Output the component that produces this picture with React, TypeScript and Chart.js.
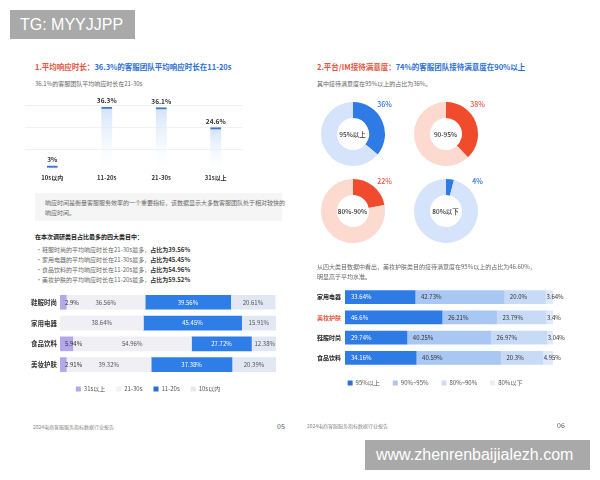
import React, { useEffect, useRef } from 'react';
import { Chart, registerables } from 'chart.js';

Chart.register(...registerables);

const FONT = '"Noto Sans CJK SC", "Noto Sans", sans-serif';

// ---- Page 05: average response time ----
const respCategories = ['10s以内', '11-20s', '21-30s', '31s以上'];
const respShares = [3, 36.3, 36.1, 24.6];

const leftCategories = ['鞋服时尚', '家用电器', '食品饮料', '美妆护肤'];
const leftSeriesNames = ['31s以上', '21-30s', '11-20s', '10s以内'];
const over31s = [2.9, null, 5.94, 2.91];
const from21to30 = [36.56, 38.64, 54.96, 39.32];
const from11to20 = [39.56, 45.45, 27.72, 37.38];
const within10s = [20.61, 15.91, 12.38, 20.39];

const bulletCats = ['鞋服时尚', '家用电器', '食品饮料', '美妆护肤'];
const bulletRanges = ['21-30s', '21-30s', '11-20s', '11-20s'];
const bulletShares = ['39.56%', '45.45%', '54.96%', '59.52%'];

// ---- Page 06: satisfaction ----
const donutNames = ['95%以上', '90-95%', '80%-90%', '80%以下'];
const donutShares = [36, 38, 22, 4];

const rightCategories = ['家用电器', '美妆护肤', '鞋服时尚', '食品饮料'];
const rightSeriesNames = ['95%以上', '90%~95%', '80%~90%', '80%以下'];
const above95 = [33.64, 46.6, 29.74, 34.16];
const from90to95 = [42.73, 26.21, 40.25, 40.59];
const from80to90 = [20.0, 23.79, 26.97, 20.3];
const below80 = [3.64, 3.4, 3.04, 4.95];
const highlightCategory = '美妆护肤';

const RED = '#e4553f';
const BLUE_T = '#2d6fd4';

function fmt(v: number) {
  return Number.isInteger(v) && v !== 0 && v < 100 && v > 10 ? v.toFixed(1) : String(v);
}

function makeSegPlugin(cfg: { colors: string[]; align: 'center' | 'left'; offset: number; font: string }) {
  return {
    id: 'segLabels',
    afterDatasetsDraw(chart: any) {
      const ctx = chart.ctx;
      ctx.save();
      ctx.font = cfg.font;
      ctx.textBaseline = 'middle';
      chart.data.datasets.forEach((ds: any, di: number) => {
        const meta = chart.getDatasetMeta(di);
        meta.data.forEach((el: any, i: number) => {
          const v = ds.data[i];
          if (v == null) return;
          const text = fmt(v) + '%';
          const { x, base, y } = el.getProps(['x', 'base', 'y'], true);
          const left = Math.min(x, base);
          const w = Math.abs(x - base);
          const tw = ctx.measureText(text).width;
          ctx.fillStyle = cfg.colors[di];
          if (cfg.align === 'center' && tw + 4 <= w) {
            ctx.textAlign = 'center';
            ctx.fillText(text, left + w / 2, y);
          } else if (cfg.align === 'left' && tw + cfg.offset + 2 <= w) {
            ctx.textAlign = 'left';
            ctx.fillText(text, left + cfg.offset, y);
          } else {
            ctx.textAlign = 'left';
            ctx.fillText(text, cfg.align === 'center' ? left + 5 : left + 1, y);
          }
        });
      });
      ctx.restore();
    },
  };
}

const barValuePlugin = {
  id: 'barValues',
  afterDatasetsDraw(chart: any) {
    const ctx = chart.ctx;
    ctx.save();
    ctx.font = `bold 6.5px ${FONT}`;
    ctx.fillStyle = '#333';
    ctx.textAlign = 'center';
    ctx.textBaseline = 'bottom';
    const ds = chart.data.datasets[0];
    chart.getDatasetMeta(0).data.forEach((el: any, i: number) => {
      ctx.fillText(`${ds.data[i]}%`, el.x, el.y - 3);
    });
    ctx.restore();
  },
};

function ChartBox({ make, left, top, width, height }: any) {
  const ref = useRef<HTMLCanvasElement>(null);
  useEffect(() => {
    const chart = new Chart(ref.current as HTMLCanvasElement, make());
    return () => chart.destroy();
  }, []);
  return (
    <canvas
      ref={ref}
      width={width}
      height={height}
      style={{ position: 'absolute', left, top, width, height }}
    />
  );
}

function T({ x, y, size, color = '#333', weight = 400, children, center = false, family = FONT }: any) {
  const lh = Math.ceil(size * 1.4);
  return (
    <div
      style={{
        position: 'absolute',
        left: x,
        top: y - lh / 2,
        fontSize: size,
        lineHeight: `${lh}px`,
        color,
        fontWeight: weight,
        whiteSpace: 'nowrap',
        fontFamily: family,
        transform: center ? 'translateX(-50%)' : undefined,
      }}
    >
      {children}
    </div>
  );
}

const respChart = () => ({
  type: 'bar',
  data: {
    labels: respCategories,
    datasets: [
      {
        data: respShares,
        barThickness: 11,
        backgroundColor: (c: any) => {
          const chart = c.chart;
          if (!chart.chartArea || c.raw == null) return '#d3e3f9';
          const y = chart.scales.y;
          const g = chart.ctx.createLinearGradient(0, y.getPixelForValue(c.raw), 0, y.getPixelForValue(0));
          g.addColorStop(0, '#d2e2f9');
          g.addColorStop(1, 'rgba(255,255,255,0.2)');
          return g;
        },
        borderColor: '#3f78c8',
        borderWidth: { top: 2, left: 0, right: 0, bottom: 0 },
        borderSkipped: false,
      },
    ],
  },
  options: {
    animation: false,
    responsive: false,
    layout: { padding: { left: 5, right: 17, top: 20, bottom: 0 } },
    plugins: { legend: { display: false }, tooltip: { enabled: false } },
    scales: {
      x: {
        grid: { display: false, drawTicks: false },
        border: { display: false },
        ticks: { font: { family: FONT, size: 6, weight: 'bold' }, color: '#333', padding: 3 },
        afterFit: (s: any) => {
          s.height = 19;
        },
      },
      y: {
        min: 0,
        max: 37.5,
        ticks: { display: false, stepSize: 12.5 },
        grid: {
          drawTicks: false,
          color: (c: any) => (c.tick && c.tick.value === 0 ? 'rgba(0,0,0,0)' : '#eef1f5'),
        },
        border: { display: false },
        afterFit: (s: any) => {
          s.width = 0;
        },
      },
    },
  },
  plugins: [barValuePlugin],
});

const leftColors = ['#b5a8ea', '#efeff4', '#2f7de6', '#e2e8f3'];
const leftLegendColors = ['#b5a8ea', '#f1f1f5', '#2a6ccf', '#e6e8ee'];
const leftStackChart = () => ({
  type: 'bar',
  data: {
    labels: leftCategories,
    datasets: [over31s, from21to30, from11to20, within10s].map((d, i) => ({
      label: leftSeriesNames[i],
      data: d,
      backgroundColor: leftColors[i],
      borderWidth: 0,
      barThickness: 14,
    })),
  },
  options: {
    animation: false,
    responsive: false,
    indexAxis: 'y',
    layout: { padding: { left: 0, right: 9, top: 5, bottom: 0 } },
    plugins: {
      tooltip: { enabled: false },
      legend: {
        position: 'bottom',
        labels: {
          boxWidth: 5,
          boxHeight: 5,
          padding: 11,
          color: '#555',
          font: { family: FONT, size: 6 },
          generateLabels: (chart: any) =>
            chart.data.datasets.map((ds: any, i: number) => ({
              text: ds.label,
              fillStyle: leftLegendColors[i],
              strokeStyle: leftLegendColors[i],
              lineWidth: 0,
              hidden: false,
              datasetIndex: i,
              fontColor: '#555',
            })),
        },
      },
    },
    scales: {
      x: { display: false, stacked: true, min: 0, max: 100 },
      y: {
        stacked: true,
        grid: { display: false, drawTicks: false },
        border: { display: false },
        ticks: { font: { family: FONT, size: 6.5, weight: 'bold' }, color: '#333', padding: 3 },
        afterFit: (s: any) => {
          s.width = 40;
        },
      },
    },
  },
  plugins: [
    makeSegPlugin({
      colors: ['#333', '#555', '#ffffff', '#555'],
      align: 'center',
      offset: 5,
      font: `6px ${FONT}`,
    }),
  ],
});

const rightColors = ['#2f7be6', '#a9c7f3', '#c7dbf7', '#dfe9fa'];
const rightLegendColors = ['#2f6fd6', '#b7c3ec', '#d3daf1', '#e9edf6'];
const rightStackChart = () => ({
  type: 'bar',
  data: {
    labels: rightCategories,
    datasets: [above95, from90to95, from80to90, below80].map((d, i) => ({
      label: rightSeriesNames[i],
      data: d,
      backgroundColor: rightColors[i],
      borderWidth: 0,
      barThickness: 13,
    })),
  },
  options: {
    animation: false,
    responsive: false,
    indexAxis: 'y',
    layout: { padding: { left: 7, right: 32, top: 7, bottom: 0 } },
    plugins: {
      tooltip: { enabled: false },
      legend: {
        position: 'bottom',
        labels: {
          boxWidth: 5,
          boxHeight: 5,
          padding: 7,
          color: '#555',
          font: { family: FONT, size: 6 },
          generateLabels: (chart: any) =>
            chart.data.datasets.map((ds: any, i: number, arr: any[]) => ({
              text: i < arr.length - 1 ? ds.label + '\u3000' : ds.label,
              fillStyle: rightLegendColors[i],
              strokeStyle: rightLegendColors[i],
              lineWidth: 0,
              hidden: false,
              datasetIndex: i,
              fontColor: '#555',
            })),
        },
      },
    },
    scales: {
      x: {
        stacked: true,
        min: 0,
        max: 100,
        grid: { display: false, drawTicks: false },
        border: { display: false },
        ticks: { display: false },
        afterFit: (s: any) => {
          s.height = 5;
        },
      },
      y: {
        stacked: true,
        grid: { display: false, drawTicks: false },
        border: { display: false },
        ticks: {
          font: { family: FONT, size: 6, weight: 'bold' },
          color: (c: any) => (c.tick && c.tick.label === highlightCategory ? RED : '#222'),
          crossAlign: 'far',
          padding: 3,
        },
        afterFit: (s: any) => {
          s.width = 28;
        },
      },
    },
  },
  plugins: [
    makeSegPlugin({
      colors: ['#ffffff', '#333', '#333', '#333'],
      align: 'left',
      offset: 6,
      font: `6px ${FONT}`,
    }),
  ],
});

const donutMain = ['#2f7be6', '#ef4b2c', '#ef4b2c', '#2f7be6'];
const donutRest = ['#d5e4fa', '#fcdad0', '#fcdad0', '#d5e4fa'];
const donutText = ['#2f70d8', '#e5533c', '#e5533c', '#2f70d8'];
const donutCenters = [
  [352.5, 134],
  [445.5, 134],
  [352.5, 210.5],
  [445.5, 210.5],
];

const donutChart = (i: number) => () => ({
  type: 'doughnut',
  data: {
    labels: [donutNames[i], '其他'],
    datasets: [
      {
        data: [donutShares[i], 100 - donutShares[i]],
        backgroundColor: [donutMain[i], donutRest[i]],
        borderWidth: 0,
      },
    ],
  },
  options: {
    animation: false,
    responsive: false,
    cutout: '50%',
    layout: { padding: 3 },
    plugins: { legend: { display: false }, tooltip: { enabled: false } },
  },
});

export default function App() {
  return (
    <div
      style={{
        position: 'fixed',
        left: 0,
        top: 0,
        width: 600,
        height: 480,
        background: '#ffffff',
        overflow: 'hidden',
        fontFamily: FONT,
      }}
    >
      {/* ---------- Left page ---------- */}
      <T x={35} y={66} size={7.5} weight={700} color={RED}>
        1.平均响应时长：<span style={{ color: BLUE_T }}>36.3%的客服团队平均响应时长在11-20s</span>
      </T>
      <T x={35} y={83} size={6} color="#666">
        36.1%的客服团队平均响应时长在21-30s
      </T>
      <ChartBox make={respChart} left={20} top={85} width={240} height={105} />

      <div style={{ position: 'absolute', left: 35, top: 193, width: 247, height: 28, background: '#f5f5f5' }} />
      <T x={45} y={202} size={6} color="#666">
        响应时间是衡量客服服务效率的一个重要指标，该数据显示大多数客服团队处于相对较快的
      </T>
      <T x={45} y={212} size={6} color="#666">
        响应时间。
      </T>

      <T x={35} y={236} size={6} weight={700} color="#222">
        在本次调研类目占比最多的四大类目中：
      </T>
      {bulletCats.map((c, i) => (
        <React.Fragment key={c}>
          <T x={36} y={249 + i * 10} size={6} color="#777">
            •
          </T>
          <T x={42} y={249 + i * 10} size={6} color="#666">
            {c}的平均响应时长在{bulletRanges[i]}最多，
            <span style={{ fontWeight: 700, color: '#333' }}>占比为{bulletShares[i]}</span>
          </T>
        </React.Fragment>
      ))}

      <ChartBox make={leftStackChart} left={20} top={285} width={265} height={117} />

      <T x={33} y={426} size={5} color="#888">
        2024电商客服服务指标数据行业报告
      </T>
      <T x={277} y={426} size={7} color="#555">
        05
      </T>

      {/* ---------- Right page ---------- */}
      <T x={317} y={66} size={7.5} weight={700} color={RED}>
        2.平台/IM接待满意度：<span style={{ color: BLUE_T }}>74%的客服团队接待满意度在90%以上</span>
      </T>
      <T x={317} y={83} size={6} color="#666">
        其中接待满意度在95%以上的占比为36%。
      </T>

      {donutCenters.map(([cx, cy], i) => (
        <React.Fragment key={i}>
          <ChartBox make={donutChart(i)} left={cx - 35} top={cy - 35} width={70} height={70} />
          <T x={cx} y={cy} size={6.5} color="#333" weight={500} center>
            {donutNames[i]}
          </T>
          <T x={cx + 32} y={cy - 30} size={7} color={donutText[i]} weight={500} center>
            {donutShares[i]}%
          </T>
        </React.Fragment>
      ))}

      <T x={317} y={266} size={6} color="#666">
        从四大类目数据中看出，美妆护肤类目的接待满意度在95%以上的占比为46.60%，
      </T>
      <T x={317} y={276} size={6} color="#666">
        明显高于平均水准。
      </T>

      <ChartBox make={rightStackChart} left={310} top={280} width={275} height={116} />

      <T x={307} y={425} size={5} color="#888">
        2024电商客服服务指标数据行业报告
      </T>
      <T x={557} y={425} size={7} color="#555">
        06
      </T>

      {/* ---------- Watermarks ---------- */}
      <div
        style={{
          position: 'absolute',
          left: 10,
          top: 10,
          width: 125,
          height: 29,
          background: '#a9a9a9',
          color: '#fff',
          fontFamily: '"Liberation Sans", Arial, sans-serif',
          fontSize: 16,
          lineHeight: '29px',
          paddingLeft: 10,
          boxSizing: 'border-box',
          whiteSpace: 'nowrap',
        }}
      >
        TG: MYYJJPP
      </div>
      <div
        style={{
          position: 'absolute',
          left: 365,
          top: 440,
          width: 225,
          height: 30,
          background: '#a9a9a9',
          color: '#fff',
          fontFamily: '"Liberation Sans", Arial, sans-serif',
          fontSize: 16,
          lineHeight: '30px',
          paddingLeft: 11,
          boxSizing: 'border-box',
          whiteSpace: 'nowrap',
        }}
      >
        www.zhenrenbaijialezh.com
      </div>
    </div>
  );
}
